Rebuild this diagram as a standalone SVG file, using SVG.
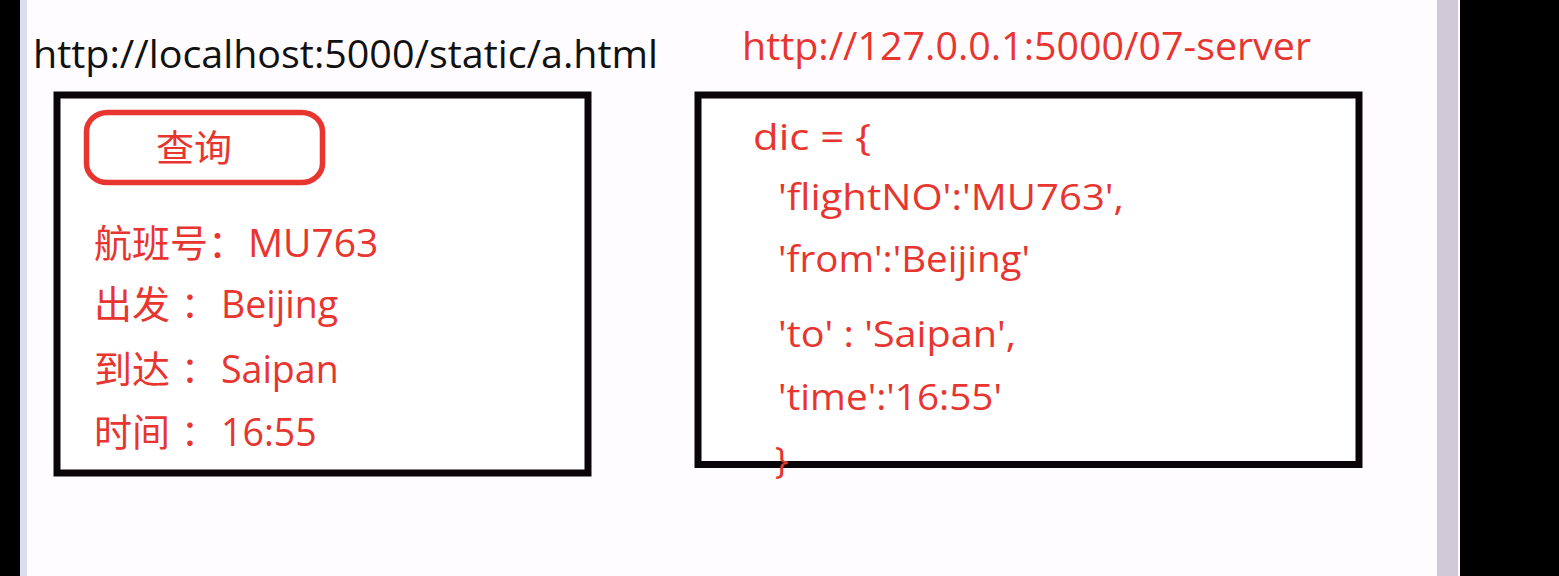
<svg xmlns="http://www.w3.org/2000/svg" width="1559" height="576" viewBox="0 0 1559 576">
<style>
.lat{font-family:"Open Sans","Noto Sans","Liberation Sans",sans-serif;}
.cjk{font-family:"Noto Sans CJK SC","Open Sans",sans-serif;}
.red{fill:#e8352f;}
.blk{fill:#111;}
.box{fill:#fff;stroke:#0a0508;stroke-width:7;}
</style>
<rect x="0" y="0" width="1559" height="576" fill="#fefcfe"/>
<rect x="0" y="0" width="20" height="576" fill="#000"/>
<rect x="20" y="0" width="7" height="576" fill="#dcdcef"/>
<rect x="1437" y="0" width="21" height="576" fill="#d0c8d6"/>
<rect x="1460" y="0" width="99" height="576" fill="#000"/>

<g id="client-url">
<text class="lat blk" x="33" y="68" font-size="38" textLength="625" lengthAdjust="spacingAndGlyphs">http://localhost:5000/static/a.html</text>
</g>
<g id="server-url">
<text class="lat red" x="742" y="60" font-size="38" textLength="569" lengthAdjust="spacingAndGlyphs">http://127.0.0.1:5000/07-server</text>
</g>

<g id="client-page">
<rect class="box" x="57" y="95" width="531" height="378"/>
<g id="query-button">
<rect x="86.5" y="112.5" width="236" height="70" rx="21" ry="19" fill="none" stroke="#e8352f" stroke-width="5.5"/>
<text class="cjk red" x="156" y="162" font-size="37" textLength="76" lengthAdjust="spacingAndGlyphs">查询</text>
</g>
<text class="red" y="257" font-size="38"><tspan class="cjk" x="94">航班号</tspan><tspan class="cjk" x="208">：</tspan><tspan class="lat" x="248" font-size="39">MU763</tspan></text>
<text class="red" y="318" font-size="38"><tspan class="cjk" x="94">出发</tspan><tspan class="cjk" x="181" font-size="36">：</tspan><tspan class="lat" x="221" font-size="37.5">Beijing</tspan></text>
<text class="red" y="383" font-size="38"><tspan class="cjk" x="94">到达</tspan><tspan class="cjk" x="181" font-size="36">：</tspan><tspan class="lat" x="221" font-size="37.5">Saipan</tspan></text>
<text class="red" y="446" font-size="38"><tspan class="cjk" x="94">时间</tspan><tspan class="cjk" x="181" font-size="36">：</tspan><tspan class="lat" x="221" font-size="37.5">16:55</tspan></text>
</g>

<g id="server-dict">
<rect class="box" x="698" y="95" width="661" height="369.5" stroke-width="7.5"/>
<text class="lat red" x="753" y="150" font-size="37" textLength="118" lengthAdjust="spacingAndGlyphs">dic = {</text>
<text class="lat red" x="778" y="210" font-size="37" textLength="346" lengthAdjust="spacingAndGlyphs">'flightNO':'MU763',</text>
<text class="lat red" x="778" y="272" font-size="37" textLength="252" lengthAdjust="spacingAndGlyphs">'from':'Beijing'</text>
<text class="lat red" x="778" y="347" font-size="37" textLength="238" lengthAdjust="spacingAndGlyphs">'to' : 'Saipan',</text>
<text class="lat red" x="778" y="410" font-size="37" textLength="224" lengthAdjust="spacingAndGlyphs">'time':'16:55'</text>
<text class="lat red" x="775" y="473" font-size="36">}</text>
</g>
</svg>
